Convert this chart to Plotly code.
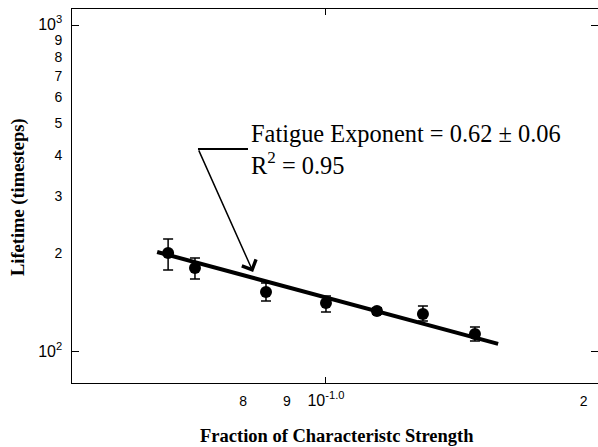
import math
import plotly.graph_objects as go

# ---- data ----
strength = [0.0654, 0.0703, 0.0851, 0.100, 0.1147, 0.1298, 0.1493]
lifetime = [200.8, 180.7, 152.6, 141.2, 133.5, 130.7, 113.5]
err_plus = [20.8, 13.2, 9.9, 7.2, 3.0, 7.5, 5.8]
err_minus = [22.6, 13.5, 9.4, 8.6, 3.0, 6.3, 5.4]

fit_strength = [0.0635, 0.1589]
fit_lifetime = [202.2, 105.8]

arrow_target_x = 0.0822
arrow_target_y = 175.7

x_tickvals = [0.08, 0.09, 0.1, 0.2]
x_ticktext = ["8", "9", "<span style='font-size:16px'>10<sup>-1.0</sup></span>", "2"]
y_tickvals = [100, 200, 300, 400, 500, 600, 700, 800, 900, 1000]
y_ticktext = ["<span style='font-size:16px'>10<sup>2</sup></span>", "2", "3", "4", "5",
              "6", "7", "8", "9", "<span style='font-size:16px'>10<sup>3</sup></span>"]

x_range = [-1.2967, -0.6822]
y_range = [1.905, 3.049]

fig = go.Figure()

fig.add_trace(go.Scatter(
    x=fit_strength, y=fit_lifetime, mode="lines",
    line=dict(color="black", width=4), showlegend=False, hoverinfo="skip"))

fig.add_trace(go.Scatter(
    x=strength, y=lifetime, mode="markers",
    marker=dict(color="black", size=12, symbol="circle"),
    error_y=dict(type="data", array=err_plus, arrayminus=err_minus,
                 color="black", thickness=1.5, width=5, visible=True),
    showlegend=False))

# invisible trace to hold the tick-mark overlay axes
fig.add_trace(go.Scatter(
    x=fit_strength, y=fit_lifetime, mode="lines", xaxis="x2", yaxis="y2",
    line=dict(color="rgba(0,0,0,0)", width=0), showlegend=False, hoverinfo="skip"))

tickfont = dict(family="Liberation Sans, Arial, sans-serif", size=14, color="black")

fig.update_layout(
    width=598, height=447,
    margin=dict(l=72, r=0, t=9, b=64),
    paper_bgcolor="white", plot_bgcolor="white",
    xaxis=dict(type="log", range=x_range, tickmode="array",
               tickvals=x_tickvals, ticktext=x_ticktext, ticks="",
               tickfont=tickfont, showgrid=False, zeroline=False,
               showline=True, linecolor="black", linewidth=1, mirror=True,
               ticklabelstandoff=5),
    yaxis=dict(type="log", range=y_range, tickmode="array",
               tickvals=y_tickvals, ticktext=y_ticktext, ticks="",
               tickfont=tickfont, showgrid=False, zeroline=False,
               showline=True, linecolor="black", linewidth=1, mirror=False,
               ticklabelstandoff=6),
    xaxis2=dict(type="log", range=x_range, overlaying="x", anchor="y",
                tickmode="array", tickvals=[0.1], ticks="inside", ticklen=6,
                tickcolor="black", tickwidth=1, mirror="ticks",
                showticklabels=False, showgrid=False, zeroline=False, showline=False),
    yaxis2=dict(type="log", range=y_range, overlaying="y", anchor="x",
                tickmode="array", tickvals=[100, 1000], ticks="inside", ticklen=7,
                tickcolor="black", tickwidth=1, mirror="ticks",
                showticklabels=False, showgrid=False, zeroline=False, showline=False),
)

serif = "Liberation Serif, Times New Roman, serif"

fig.add_annotation(text="Fatigue Exponent = 0.62 \u00b1 0.06<br>R<sup>2</sup> = 0.95",
                   xref="paper", yref="paper", align="left",
                   x=0.3365, y=0.625, xanchor="left", yanchor="middle", showarrow=False,
                   font=dict(family=serif, size=24.4, color="black"))

fig.add_annotation(text="", x=math.log10(arrow_target_x), y=math.log10(arrow_target_y),
                   xref="x", yref="y", ax=-55, ay=-123, axref="pixel", ayref="pixel",
                   showarrow=True, arrowhead=4, arrowsize=2, arrowwidth=1.5,
                   arrowcolor="black")

fig.add_shape(type="line", xref="paper", yref="paper", x0=0.2395, x1=0.3346,
              y0=0.6257, y1=0.6257, line=dict(color="black", width=2))

fig.add_annotation(text="<b>Lifetime (timesteps)</b>", xref="paper", yref="paper",
                   x=-0.1027, y=0.497, textangle=-90, showarrow=False,
                   xanchor="center", yanchor="middle",
                   font=dict(family=serif, size=18.5, color="black"))
fig.add_annotation(text="<b>Fraction of Characteristc Strength</b>", xref="paper", yref="paper",
                   x=0.504, y=-0.141, showarrow=False, xanchor="center", yanchor="middle",
                   font=dict(family=serif, size=18.5, color="black"))

fig.write_html("out.html")
